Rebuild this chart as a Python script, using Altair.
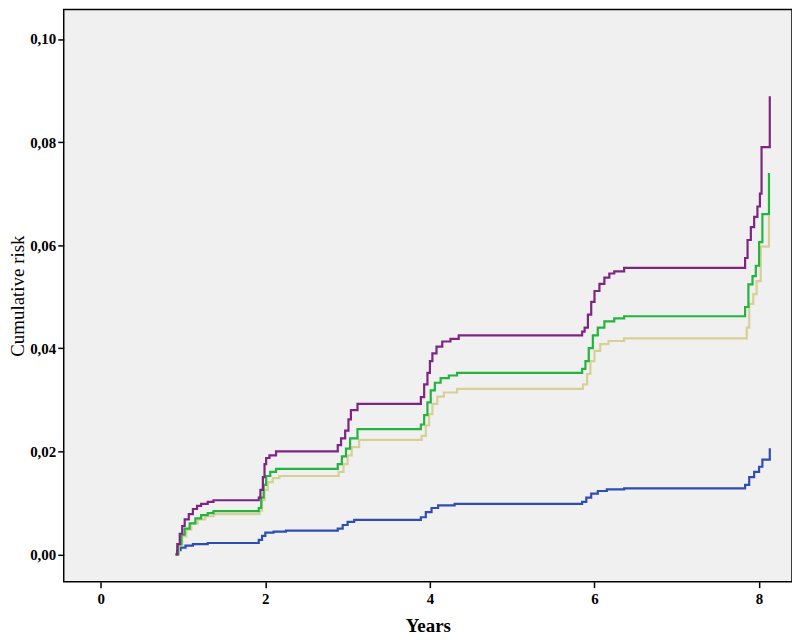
import altair as alt
import pandas as pd

# Step-function event times (years) and cumulative risk after each event
purple_t = [0.91, 0.93, 0.96, 0.99, 1.02, 1.07, 1.12, 1.17, 1.22, 1.30, 1.37,
            1.92, 1.94, 1.97, 1.99, 2.01, 2.05, 2.13,
            2.88, 2.92, 2.97, 3.01, 3.04, 3.12,
            3.89, 3.93, 3.97, 4.00, 4.03, 4.08, 4.15, 4.25, 4.35,
            5.85, 5.88, 5.92, 5.96, 6.00, 6.06, 6.12, 6.18, 6.24, 6.36,
            7.83, 7.86, 7.90, 7.94, 7.98, 8.01, 8.03, 8.13]
purple_y = [0.0000, 0.0020, 0.0040, 0.0055, 0.0068, 0.0078, 0.0088, 0.0094, 0.0098, 0.0102, 0.0105,
            0.0110, 0.0125, 0.0150, 0.0175, 0.0187, 0.0192, 0.0200,
            0.0212, 0.0225, 0.0240, 0.0262, 0.0280, 0.0292,
            0.0305, 0.0330, 0.0352, 0.0375, 0.0390, 0.0403, 0.0413, 0.0418, 0.0425,
            0.0432, 0.0440, 0.0465, 0.0490, 0.0511, 0.0525, 0.0537, 0.0545, 0.0549, 0.0556,
            0.0575, 0.0610, 0.0635, 0.0655, 0.0675, 0.0700, 0.0790, 0.0889]

green_t = [0.91, 0.94, 0.98, 1.02, 1.08, 1.15, 1.22, 1.30, 1.37,
           1.92, 1.95, 1.98, 2.01, 2.06, 2.13,
           2.88, 2.93, 2.98, 3.03, 3.12,
           3.89, 3.93, 3.97, 4.01, 4.06, 4.13, 4.23, 4.33,
           5.85, 5.89, 5.93, 5.98, 6.04, 6.12, 6.24, 6.36,
           7.83, 7.87, 7.92, 7.96, 8.00, 8.04, 8.12]
green_y = [0.0000, 0.0020, 0.0038, 0.0050, 0.0060, 0.0070, 0.0076, 0.0080, 0.0084,
           0.0090, 0.0110, 0.0135, 0.0152, 0.0160, 0.0166,
           0.0175, 0.0190, 0.0205, 0.0225, 0.0243,
           0.0252, 0.0270, 0.0295, 0.0318, 0.0333, 0.0342, 0.0347, 0.0352,
           0.0360, 0.0375, 0.0400, 0.0425, 0.0440, 0.0452, 0.0458, 0.0462,
           0.0480, 0.0524, 0.0540, 0.0560, 0.0606, 0.0660, 0.0740]

tan_t = [0.91, 0.95, 0.99, 1.04, 1.10, 1.18, 1.27, 1.37,
         1.93, 1.96, 1.99, 2.03, 2.09, 2.17,
         2.89, 2.95, 3.00, 3.05, 3.14,
         3.90, 3.95, 3.99, 4.03, 4.09, 4.17, 4.33,
         5.86, 5.91, 5.95, 6.00, 6.07, 6.17, 6.36,
         7.85, 7.88, 7.93, 7.97, 8.02, 8.12]
tan_y = [0.0000, 0.0018, 0.0035, 0.0048, 0.0060, 0.0068, 0.0074, 0.0078,
         0.0085, 0.0105, 0.0125, 0.0140, 0.0148, 0.0152,
         0.0160, 0.0175, 0.0192, 0.0208, 0.0222,
         0.0230, 0.0250, 0.0272, 0.0292, 0.0306, 0.0314, 0.0321,
         0.0330, 0.0350, 0.0375, 0.0395, 0.0408, 0.0414, 0.0419,
         0.0440, 0.0486, 0.0505, 0.0530, 0.0597, 0.0657]

blue_t = [0.91, 0.93, 0.97, 1.03, 1.12, 1.30,
          1.92, 1.96, 2.00, 2.10, 2.25,
          2.88, 2.94, 3.00, 3.08,
          3.89, 3.95, 4.02, 4.10, 4.30,
          5.85, 5.90, 5.96, 6.04, 6.15, 6.36,
          7.83, 7.88, 7.94, 8.00, 8.04, 8.13]
blue_y = [0.0000, 0.0008, 0.0013, 0.0017, 0.0020, 0.0022,
          0.0028, 0.0036, 0.0042, 0.0044, 0.0046,
          0.0050, 0.0057, 0.0063, 0.0067,
          0.0072, 0.0082, 0.0090, 0.0095, 0.0098,
          0.0102, 0.0110, 0.0118, 0.0123, 0.0126, 0.0128,
          0.0135, 0.0150, 0.0160, 0.0170, 0.0184, 0.0206]

series_names = ["blue", "tan", "green", "purple"]
series_colors = ["#2e4db3", "#d8cf95", "#22b43c", "#7e2481"]
x_ticks = [0, 2, 4, 6, 8]
y_ticks = [0.00, 0.02, 0.04, 0.06, 0.08, 0.10]

rows = []
for name, ts, ys in [("blue", blue_t, blue_y), ("tan", tan_t, tan_y),
                     ("green", green_t, green_y), ("purple", purple_t, purple_y)]:
    for t, y in zip(ts, ys):
        rows.append({"series": name, "t": t, "y": y})
df = pd.DataFrame(rows)

chart = alt.Chart(df).mark_line(interpolate="step-after", strokeWidth=2.2, clip=True).encode(
    x=alt.X("t:Q", scale=alt.Scale(domain=[-0.45, 8.4], nice=False, zero=False),
            axis=alt.Axis(title="Years", values=x_ticks, format="d", grid=False, domain=False,
                          tickColor="black", tickSize=6, tickWidth=1.5,
                          labelFont="Liberation Serif", labelFontWeight="bold", labelFontSize=15,
                          labelColor="black", labelPadding=4,
                          titleFont="Liberation Serif", titleFontWeight="bold", titleFontSize=19,
                          titleColor="black", titlePadding=10)),
    y=alt.Y("y:Q", scale=alt.Scale(domain=[-0.0053, 0.1057], nice=False, zero=False),
            axis=alt.Axis(title="Cumulative risk", values=y_ticks, grid=False, domain=False,
                          labelExpr="replace(format(datum.value, '.2f'), '.', ',')",
                          tickColor="black", tickSize=6, tickWidth=1.5,
                          labelFont="Liberation Serif", labelFontWeight="bold", labelFontSize=15,
                          labelColor="black", labelPadding=2,
                          titleFont="Liberation Serif", titleFontWeight="normal", titleFontSize=19,
                          titleColor="black", titlePadding=2)),
    color=alt.Color("series:N", scale=alt.Scale(domain=series_names, range=series_colors), legend=None),
    order=alt.Order("t:Q"),
).properties(
    width=732, height=575, background="white",
    padding={"left": 0, "top": 0, "right": 0, "bottom": 0}
).configure_view(
    fill="#f0f0f0", stroke="black", strokeWidth=1.5
)

chart.save("out.html", embed_options={"renderer": "svg", "actions": False})
